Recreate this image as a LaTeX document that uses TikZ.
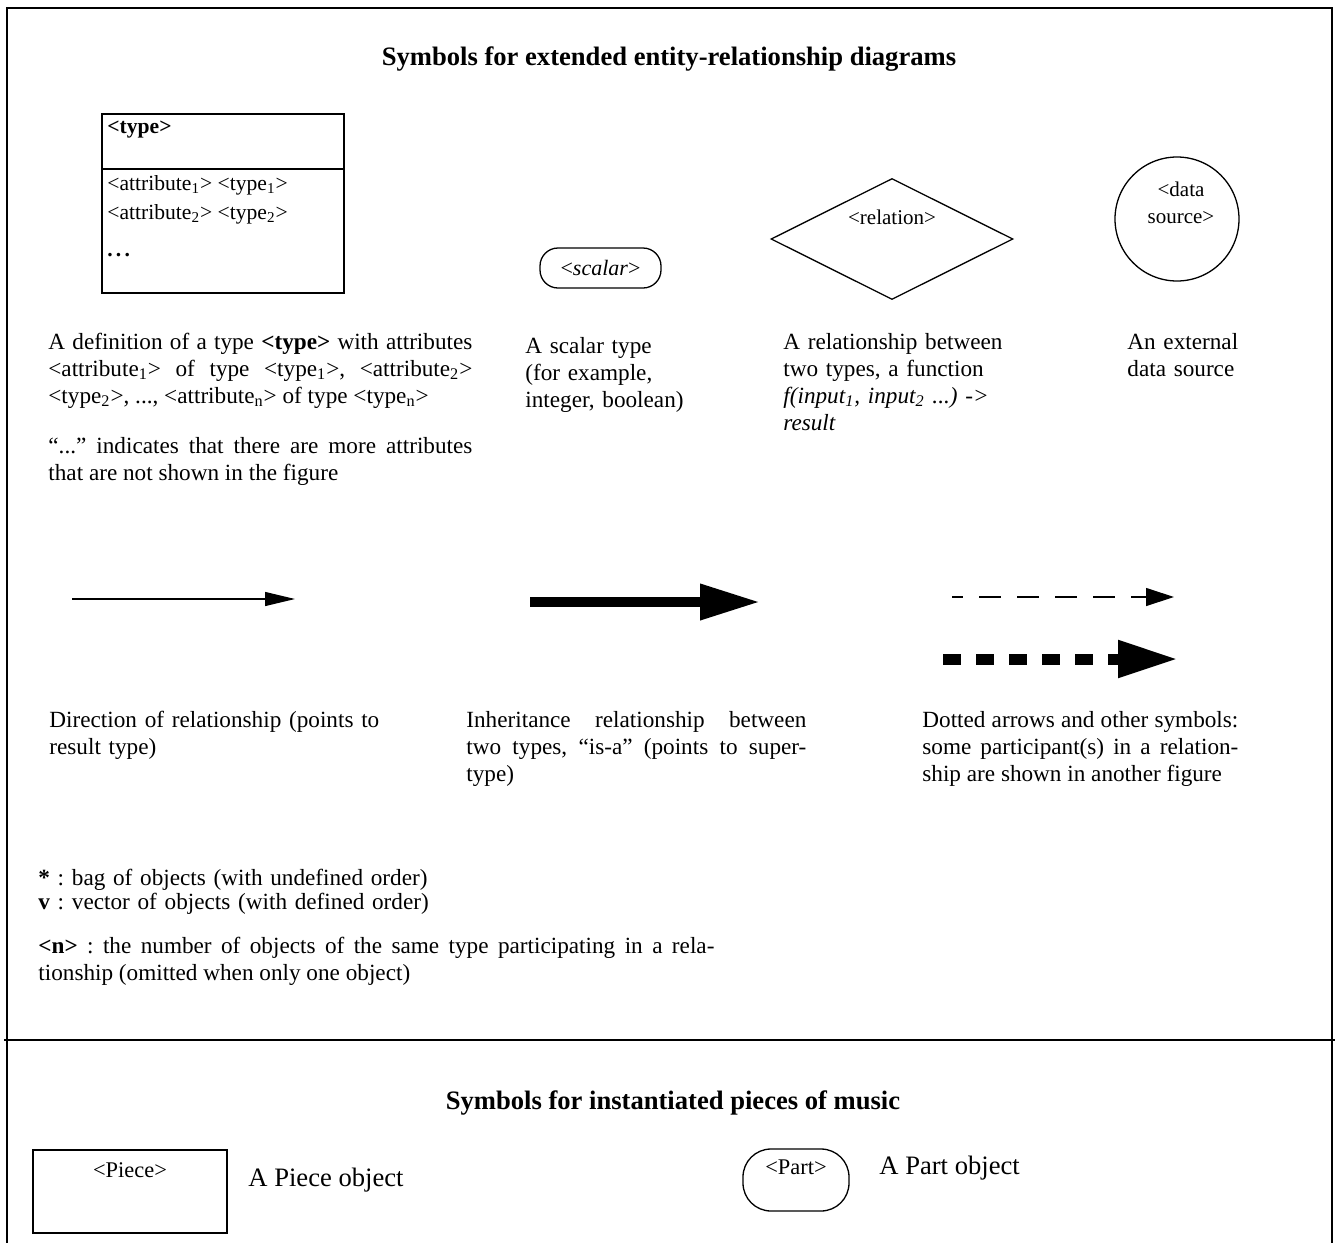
\documentclass[tikz,border=0pt]{standalone}
\usepackage{fontspec}
\setmainfont{Liberation Serif}
\usetikzlibrary{arrows.meta, shapes.geometric, positioning}
\tolerance=9999
\frenchspacing

\begin{document}
\begin{tikzpicture}[x = 0.5pt, y = -0.5pt]%
    %
    \tikzstyle{frame} = [draw = black, line width = 1.3pt]%
    \tikzstyle{title} = [font = \fontsize{13.3}{16}\selectfont\bfseries, inner sep = 0pt, anchor = base]%
    \tikzstyle{caption} = [font = \fontsize{11.6}{13.5}\selectfont, inner sep = 0pt, anchor = base west, text width = 180pt, align = left]%
    \tikzstyle{justified} = [caption, align = justify]%
    \tikzstyle{entry} = [font = \fontsize{10.8}{13}\selectfont, inner sep = 0pt, anchor = base west]%
    \tikzstyle{shapetext} = [font = \fontsize{10.5}{13.5}\selectfont, inner sep = 0pt, align = center]%
    \tikzstyle{musictext} = [font = \fontsize{13.3}{16}\selectfont, inner sep = 0pt, anchor = base west]%
    \tikzstyle{symbol} = [draw = black, line width = 0.65pt, inner sep = 0pt]%
    \tikzstyle{box} = [symbol, rectangle, line width = 1pt]%
    \tikzstyle{thin arrow} = [-{Triangle[length = 15pt, width = 7pt]}, line width = 0.6pt]%
    \tikzstyle{thick arrow} = [-{Triangle[length = 30pt, width = 17pt]}, line width = 5pt]%
    \tikzstyle{thin dashed arrow} = [-{Triangle[length = 14pt, width = 9pt]}, line width = 0.6pt, dash pattern = on 11pt off 8pt, dash phase = 5.5pt]%
    \tikzstyle{thick dashed arrow} = [-{Triangle[length = 30pt, width = 17.5pt]}, line width = 5.5pt, dash pattern = on 9pt off 7.5pt]%
    %
    \useasboundingbox (0, 0) rectangle (1335, 1243);%
    %
    % frame and divider
    \coordinate (frame-bl) at (7, 1243);%
    \coordinate (frame-tl) at (7, 8);%
    \coordinate (frame-tr) at (1332, 8);%
    \coordinate (frame-br) at (1332, 1243);%
    \coordinate (div-l) at (4, 1040);%
    \coordinate (div-r) at (1335, 1040);%
    \draw [frame] (frame-bl) -- (frame-tl) -- (frame-tr) -- (frame-br);%
    \draw [frame, line width = 1.2pt] (div-l) -- (div-r);%
    %
    \node [title] (er-title) at (669, 65) {Symbols for extended entity-relationship diagrams};%
    %
    % type definition box
    \node [box, minimum width = 121pt, minimum height = 89.5pt] (type-box) at (223, 203.5) {};%
    \coordinate (type-div) at (0, 169);%
    \draw [symbol, line width = 0.8pt] (type-box.west |- type-div) -- (type-box.east |- type-div);%
    \node [entry] (type-name) at (107, 133) {\textbf{<type>}};%
    \node [entry] (type-attr1) at (107, 190) {<attribute\textsubscript{1}> <type\textsubscript{1}>};%
    \node [entry] (type-attr2) at (107, 219) {<attribute\textsubscript{2}> <type\textsubscript{2}>};%
    \node [entry] (type-more) at (107, 256) {\textbf{.\hspace{1.6pt}.\hspace{1.6pt}.}};%
    %
    \node [symbol, rounded corners = 9pt, minimum width = 60.5pt, minimum height = 20pt, font = \fontsize{11}{13}\selectfont] (scalar) at (600.5, 268) {<\textit{scalar}>};%
    \node [symbol, diamond, aspect = 2, minimum width = 121pt, minimum height = 60.5pt] (relation) at (892, 239) {};%
    \node [shapetext, below = 16pt of relation.north] (relation-label) {<relation>};%
    \node [symbol, circle, minimum size = 62pt] (data-source) at (1177, 219) {};%
    \node [shapetext] (data-source-label) at (1181, 203) {<data\\source>};%
    %
    \node [justified, text width = 212pt] (def-text) at (48, 349) {A definition of a type \textbf{<type>} with attributes\linebreak <attribute\textsubscript{1}> of type <type\textsubscript{1}>, <attribute\textsubscript{2}>\linebreak <type\textsubscript{2}>, ..., <attribute\textsubscript{n}> of type <type\textsubscript{n}>};%
    \node [justified, text width = 212pt] (dots-text) at (48, 453) {“...” indicates that there are more attributes\linebreak that are not shown in the figure};%
    \node [caption] (scalar-text) at (525, 353) {A scalar type\\(for example,\\integer, boolean)};%
    \node [caption] (relation-text) at (783, 349) {A relationship between\\two types, a function\\\textit{f(input\textsubscript{1}, input\textsubscript{2} ...) ->}\\\textit{result}};%
    \node [caption] (source-text) at (1127, 349) {An external\\data source};%
    %
    % arrow samples
    \coordinate (dir-start) at (72, 599);%
    \coordinate (dir-end) at (295, 599);%
    \draw [thin arrow] (dir-start) -- (dir-end);%
    \coordinate (inherit-start) at (530, 602);%
    \coordinate (inherit-end) at (760, 602);%
    \draw [thick arrow] (inherit-start) -- (inherit-end);%
    \coordinate (other-start) at (952, 597);%
    \coordinate (other-end) at (1174, 597);%
    \draw [thin dashed arrow] (other-start) -- (other-end);%
    \coordinate (other-thick-start) at (943, 659);%
    \coordinate (other-thick-end) at (1178, 659);%
    \draw [thick dashed arrow] (other-thick-start) -- (other-thick-end);%
    %
    \node [caption] (direction-text) at (49, 727) {Direction of relationship (points to\\result type)};%
    \node [justified, text width = 170pt] (inherit-text) at (466, 727) {Inheritance relationship between\linebreak two types, “is-a” (points to super-\linebreak type)};%
    \node [justified, text width = 158pt] (dotted-text) at (922, 727) {Dotted arrows and other symbols:\linebreak some participant(s) in a relation-\linebreak ship are shown in another figure};%
    %
    \node [caption, text width = 220pt] (bag-text) at (38, 885) {\textbf{*} : bag of objects (with undefined order)};%
    \node [caption, text width = 220pt] (vector-text) at (38, 909) {\textbf{v} : vector of objects (with defined order)};%
    \node [justified, text width = 338pt] (count-text) at (38, 953) {\textbf{<n>} : the number of objects of the same type participating in a rela-\linebreak tionship (omitted when only one object)};%
    %
    % instantiated pieces
    \node [title] (music-title) at (673, 1109) {Symbols for instantiated pieces of music};%
    \node [box, minimum width = 97pt, minimum height = 41.5pt] (piece) at (130, 1191.5) {};%
    \node [shapetext, font = \fontsize{11.2}{13}\selectfont, below = 6.5pt of piece.north] (piece-label) {<Piece>};%
    \node [musictext] (piece-text) at (248, 1186) {A Piece object};%
    \node [symbol, rounded corners = 14pt, minimum width = 53pt, minimum height = 31pt] (part) at (796, 1180) {};%
    \node [shapetext, font = \fontsize{11.2}{13}\selectfont, below = 5.5pt of part.north] (part-label) {<Part>};%
    \node [musictext] (part-text) at (879, 1174) {A Part object};%
    %
\end{tikzpicture}
\end{document}
